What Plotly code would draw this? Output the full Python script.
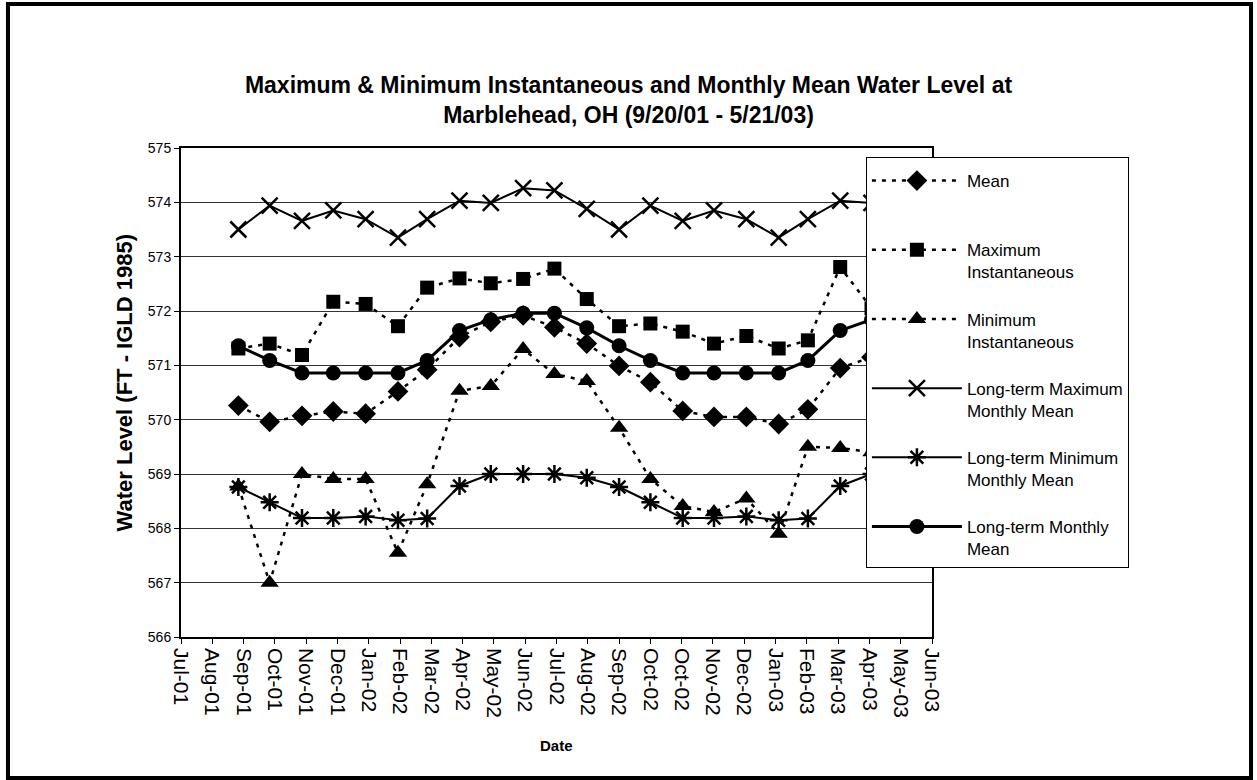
import plotly.graph_objects as go

months = ["2001-09-01", "2001-10-01", "2001-11-01", "2001-12-01", "2002-01-01",
          "2002-02-01", "2002-03-01", "2002-04-01", "2002-05-01", "2002-06-01",
          "2002-07-01", "2002-08-01", "2002-09-01", "2002-10-01", "2002-11-01",
          "2002-12-01", "2003-01-01", "2003-02-01", "2003-03-01", "2003-04-01",
          "2003-05-01"]

mean_level = [570.26, 569.96, 570.07, 570.15, 570.11, 570.52, 570.92, 571.52, 571.80,
              571.92, 571.70, 571.40, 570.99, 570.69, 570.16, 570.05, 570.05, 569.92,
              570.19, 570.95, 571.15]
max_inst = [571.31, 571.40, 571.19, 572.17, 572.13, 571.72, 572.43, 572.60, 572.51,
            572.59, 572.78, 572.22, 571.72, 571.77, 571.62, 571.40, 571.54, 571.31,
            571.46, 572.81, 572.05]
min_inst = [568.77, 567.00, 569.00, 568.91, 568.91, 567.55, 568.81, 570.53, 570.62,
            571.30, 570.84, 570.71, 569.85, 568.91, 568.41, 568.30, 568.55, 567.90,
            569.50, 569.48, 569.40]
lt_max = [573.50, 573.94, 573.66, 573.85, 573.69, 573.35, 573.69, 574.03, 573.99,
          574.26, 574.22, 573.88, 573.50, 573.94, 573.66, 573.85, 573.69, 573.35,
          573.69, 574.03, 573.99]
lt_min = [568.76, 568.48, 568.19, 568.19, 568.22, 568.15, 568.18, 568.78, 569.00,
          569.00, 569.00, 568.93, 568.76, 568.48, 568.19, 568.19, 568.22, 568.15,
          568.18, 568.78, 569.00]
lt_mean = [571.36, 571.09, 570.86, 570.86, 570.86, 570.86, 571.09, 571.64, 571.84,
           571.96, 571.96, 571.69, 571.36, 571.09, 570.86, 570.86, 570.86, 570.86,
           571.09, 571.64, 571.84]

series_names = ["Mean<br>&nbsp;", "Maximum<br>Instantaneous", "Minimum<br>Instantaneous",
                "Long-term Maximum<br>Monthly Mean", "Long-term Minimum<br>Monthly Mean",
                "Long-term Monthly<br>Mean"]

FONT = "Liberation Sans, Arial, sans-serif"
fig = go.Figure()

dotted = dict(color="black", width=2.5, dash="4px,6px")
fig.add_trace(go.Scatter(x=months, y=mean_level, name=series_names[0], mode="lines+markers",
                         line=dotted, marker=dict(symbol="diamond", size=16, color="black"),
                         legendgroup="a"))
fig.add_trace(go.Scatter(x=months, y=max_inst, name=series_names[1], mode="lines+markers",
                         line=dotted, marker=dict(symbol="square", size=14, color="black"),
                         legendgroup="b"))
fig.add_trace(go.Scatter(x=months, y=min_inst, name=series_names[2], mode="lines+markers",
                         line=dotted, marker=dict(symbol="triangle-up", size=16, color="black"),
                         legendgroup="c"))
fig.add_trace(go.Scatter(x=months, y=lt_max, name=series_names[3], mode="lines+markers",
                         line=dict(color="black", width=2),
                         marker=dict(symbol="x-thin-open", size=16, color="black",
                                     line=dict(width=2.5, color="black")),
                         legendgroup="d"))
fig.add_trace(go.Scatter(x=months, y=lt_min, name=series_names[4], mode="lines+markers",
                         line=dict(color="black", width=2),
                         marker=dict(symbol="asterisk-open", size=15, color="black",
                                     line=dict(width=2.5, color="black")),
                         legendgroup="e"))
fig.add_trace(go.Scatter(x=months, y=lt_mean, name=series_names[5], mode="lines+markers",
                         line=dict(color="black", width=3),
                         marker=dict(symbol="circle", size=15, color="black"),
                         legendgroup="f"))

fig.update_layout(
    width=1257, height=780,
    margin=dict(l=181, r=325, t=148, b=143),
    paper_bgcolor="white", plot_bgcolor="white",
    font=dict(family=FONT, color="black"),
    title=dict(text="Maximum & Minimum Instantaneous and Monthly Mean Water Level at<br>Marblehead, OH (9/20/01 - 5/21/03)",
               x=0.5, xref="container", xanchor="center",
               y=0.881, yref="container", yanchor="top",
               font=dict(size=23, family=FONT, weight="bold")),
    showlegend=True,
    legend=dict(x=0.912, y=0.982, xanchor="left", yanchor="top",
                bgcolor="white", bordercolor="black", borderwidth=1,
                font=dict(size=17, family=FONT), tracegroupgap=22,
                itemwidth=90, valign="top",
                title=dict(text=" ", font=dict(size=4))),
)

fig.update_xaxes(type="date", range=["2001-07-08", "2003-06-28"],
                 tick0="2001-07-08", dtick=30 * 86400000, tickformat="%b-%y",
                 tickangle=90, tickfont=dict(size=21, family=FONT),
                 ticks="outside", ticklen=5, tickcolor="black",
                 showgrid=False, showline=True, linecolor="black", linewidth=1.5,
                 mirror=True, zeroline=False)
fig.update_yaxes(range=[566, 575], dtick=1, tickfont=dict(size=14, family=FONT),
                 ticks="outside", ticklen=5, tickcolor="black",
                 showgrid=True, gridcolor="#333", gridwidth=1,
                 showline=True, linecolor="black", linewidth=2, mirror=True,
                 zeroline=False)

fig.add_annotation(text="Water Level (FT - IGLD 1985)", textangle=-90,
                   xref="paper", yref="paper", x=-0.0746, y=0.2127,
                   xanchor="center", yanchor="bottom", showarrow=False,
                   font=dict(size=22, family=FONT, weight="bold"))
fig.add_annotation(text="Date", xref="paper", yref="paper", x=0.5, y=-0.2209,
                   xanchor="center", yanchor="middle", showarrow=False,
                   font=dict(size=15, family=FONT, weight="bold"))

fig.add_shape(type="rect", xref="paper", yref="paper",
              x0=-0.2304, x1=1.4248, y0=-0.2883, y1=1.2945,
              line=dict(color="black", width=4))

fig.write_html("out.html", config={"displayModeBar": False},
               post_script="document.body.style.margin='0';")
